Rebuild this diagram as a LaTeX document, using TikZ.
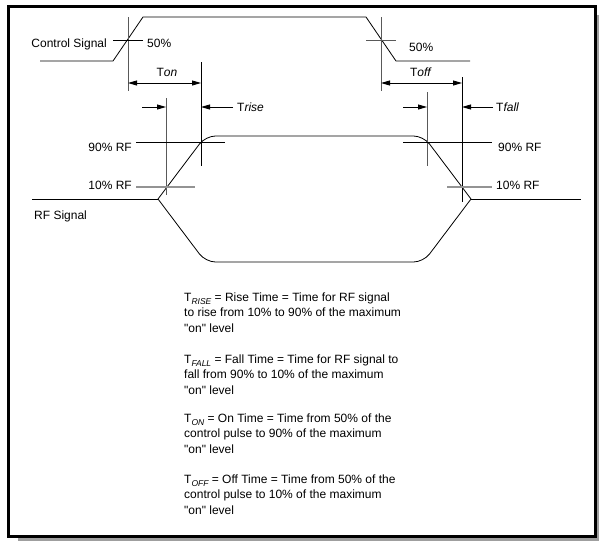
\documentclass[tikz,border=0pt]{standalone}
\usepackage{fontspec}
\setmainfont{Liberation Sans}
\usetikzlibrary{arrows.meta}
\newcommand\lowsub[1]{\raisebox{-3pt}{\fontsize{8.5}{9}\selectfont\itshape #1}}
\tikzset{
  wave/.style={line width=0.8pt},
  guide/.style={line width=0.8pt, gray!70!black},
  pale/.style={line width=1.3pt, gray!85},
  lbl/.style={inner sep=0pt},
  >={Triangle[length=9pt,width=5pt]}
}
\begin{document}
\begin{tikzpicture}[x=1pt,y=-1pt,font=\fontsize{12}{15.5}\selectfont]
			\useasboundingbox (0,0) rectangle (599,541);
			\fill[gray!75] (18,537) rectangle (599,541);
			\fill[gray!75] (597,15) rectangle (599,541);
			\draw[line width=3pt] (8.5,6) rectangle (595.5,536);
			\draw[wave] (40,61) -- (113,61) -- (143,17) -- (366,17) -- (396,61) -- (470,61);
			\draw[guide] (128,17) -- (128,91);
			\draw[wave] (113,40) -- (143,40);
			\draw[guide] (381,17) -- (381,91);
			\draw[guide] (366,40) -- (396,40);
			\draw[wave] (32,199) -- (158,199);
			\draw[wave, rounded corners=10pt] (158,199) -- (205.5,136) -- (423.5,136) -- (471,199);
			\draw[wave, rounded corners=10pt] (158,199) -- (205.5,262) -- (423.5,262) -- (471,199);
			\draw[wave] (471,199) -- (581,199);
			\draw[wave] (201,62) -- (201,166);
			\draw[guide] (166,98) -- (166,195);
			\draw[wave] (462,77) -- (462,202);
			\draw[guide] (427,92) -- (427,166);
			\draw[wave] (136,142) -- (225,142);
			\draw[wave] (403,142) -- (492,142);
			\draw[pale] (136,187) -- (195,187);
			\draw[pale] (447,187) -- (492,187);
			\draw[wave, <->] (128,83) -- (201,83);
			\draw[wave, <->] (381,83) -- (462,83);
			\draw[wave, ->] (142,107) -- (166,107);
			\draw[wave, ->] (233,107) -- (201,107);
			\draw[wave, ->] (403,107) -- (427,107);
			\draw[wave, ->] (493,107) -- (462,107);
			\node[lbl, anchor=base east] (ctl) at (107,47) {Control Signal};
			\node[lbl, anchor=base west] (on50) at (147,47) {50\%};
			\node[lbl, anchor=base west] (off50) at (409,51) {50\%};
			\node[lbl, anchor=base] (ton) at (167,76) {T\textit{on}};
			\node[lbl, anchor=base] (toff) at (421,76) {T\textit{off}};
			\node[lbl, anchor=base west] (trise) at (237,111) {T\textit{rise}};
			\node[lbl, anchor=base west] (tfall) at (496,111) {T\textit{fall}};
			\node[lbl, anchor=base east] (rise90) at (132,151) {90\% RF};
			\node[lbl, anchor=base east] (rise10) at (132,189) {10\% RF};
			\node[lbl, anchor=base west] (fall90) at (498,151) {90\% RF};
			\node[lbl, anchor=base west] (fall10) at (496,189) {10\% RF};
			\node[lbl, anchor=base west] (rfsig) at (34,219) {RF Signal};
			\foreach \n/\y/\t in {1/301/{T\lowsub{RISE} = Rise Time = Time for RF signal},
				2/316.5/{to rise from 10\% to 90\% of the maximum},
				3/332/{\textquotedbl on\textquotedbl{} level},
				4/363/{T\lowsub{FALL} = Fall Time = Time for RF signal to},
				5/378.5/{fall from 90\% to 10\% of the maximum},
				6/394/{\textquotedbl on\textquotedbl{} level},
				7/422/{T\lowsub{ON} = On Time = Time from 50\% of the},
				8/437.5/{control pulse to 90\% of the maximum},
				9/453/{\textquotedbl on\textquotedbl{} level},
				10/483/{T\lowsub{OFF} = Off Time = Time from 50\% of the},
				11/498.5/{control pulse to 10\% of the maximum},
				12/514/{\textquotedbl on\textquotedbl{} level}}{
				\node[lbl, anchor=base west] (def\n) at (184,\y) {\t};
			}
		\end{tikzpicture}
\end{document}
